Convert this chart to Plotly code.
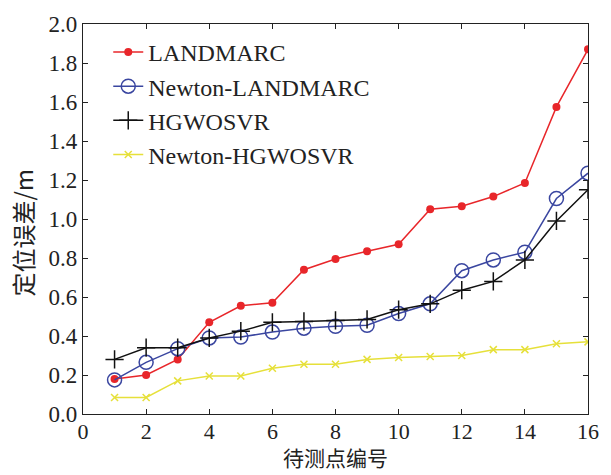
import plotly.graph_objects as go

points = list(range(1, 17))
landmarc = [0.18, 0.20, 0.28, 0.47, 0.555, 0.57, 0.74, 0.795, 0.835, 0.87,
            1.05, 1.065, 1.115, 1.185, 1.575, 1.87]
newton_landmarc = [0.175, 0.265, 0.335, 0.39, 0.395, 0.42, 0.44, 0.45, 0.455, 0.515,
                   0.565, 0.735, 0.79, 0.83, 1.105, 1.235]
hgwosvr = [0.28, 0.34, 0.34, 0.39, 0.425, 0.47, 0.475, 0.48, 0.485, 0.535,
           0.565, 0.635, 0.68, 0.79, 0.99, 1.15]
newton_hgwosvr = [0.085, 0.085, 0.17, 0.195, 0.195, 0.235, 0.255, 0.255, 0.28, 0.29,
                  0.295, 0.30, 0.33, 0.33, 0.36, 0.37]

x_ticks = [0, 2, 4, 6, 8, 10, 12, 14, 16]
y_ticks = [0.0, 0.2, 0.4, 0.6, 0.8, 1.0, 1.2, 1.4, 1.6, 1.8, 2.0]

serif = "Liberation Serif, Times New Roman, serif"
cjk = "Noto Sans CJK SC"
ink = "#222222"

fig = go.Figure()
fig.add_trace(go.Scatter(
    x=points, y=landmarc, name="LANDMARC", mode="lines+markers",
    line=dict(color="#e8262a", width=1.5),
    marker=dict(symbol="circle", size=8, color="#e8262a")))
fig.add_trace(go.Scatter(
    x=points, y=newton_landmarc, name="Newton-LANDMARC", mode="lines+markers",
    line=dict(color="#3a46a0", width=1.5),
    marker=dict(symbol="circle-open", size=14, color="#3a46a0", line=dict(width=1.5))))
fig.add_trace(go.Scatter(
    x=points, y=hgwosvr, name="HGWOSVR", mode="lines+markers",
    line=dict(color="#111111", width=1.5),
    marker=dict(symbol="cross-thin-open", size=13, color="#111111",
                line=dict(width=1.5, color="#111111"))))
fig.add_trace(go.Scatter(
    x=points, y=newton_hgwosvr, name="Newton-HGWOSVR", mode="lines+markers",
    line=dict(color="#e6e03a", width=1.5),
    marker=dict(symbol="x-thin-open", size=7, color="#e6e03a",
                line=dict(width=1.5, color="#e6e03a"))))

axis_common = dict(
    showgrid=False, zeroline=False, showline=True, linecolor=ink, linewidth=1.2,
    mirror="ticks", ticks="inside", ticklen=5, tickwidth=1, tickcolor=ink,
)

fig.update_layout(
    width=611, height=475,
    margin=dict(l=83, r=17, t=20, b=61),
    paper_bgcolor="white", plot_bgcolor="white",
    showlegend=True,
    legend=dict(x=0.05, y=0.985, xanchor="left", yanchor="top",
                font=dict(family=serif, size=24, color=ink),
                bgcolor="rgba(0,0,0,0)", borderwidth=0,
                tracegroupgap=0, itemwidth=30),
    xaxis=dict(range=[0, 16], tickvals=x_ticks, ticktext=[str(v) for v in x_ticks],
               tickfont=dict(family=serif, size=22, color=ink),
               ticklabelstandoff=-3, **axis_common),
    yaxis=dict(range=[0, 2.0], tickvals=y_ticks, ticktext=[f"{v:.1f}" for v in y_ticks],
               tickfont=dict(family=serif, size=23, color=ink), **axis_common),
    annotations=[
        dict(text="定位误差/m", textangle=-90, showarrow=False,
             xref="paper", yref="paper", x=-0.119, y=0.465,
             xanchor="center", yanchor="middle",
             font=dict(family=cjk, size=24, color=ink)),
        dict(text="待测点编号", showarrow=False,
             xref="paper", yref="paper", x=0.5, y=-0.154,
             xanchor="center", yanchor="bottom",
             font=dict(family=cjk, size=21, color=ink)),
    ],
)

fig.write_html("out.html")
